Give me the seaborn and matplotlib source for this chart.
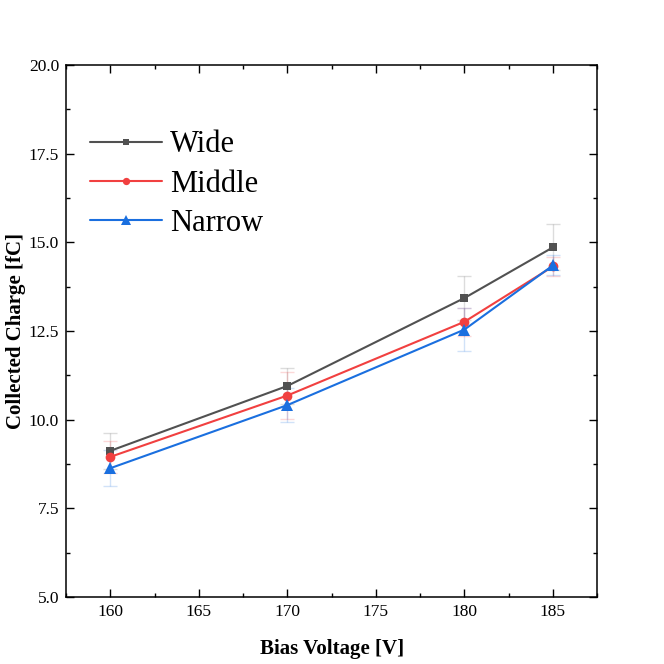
import pandas as pd
import matplotlib.pyplot as plt
import seaborn as sns
from matplotlib.ticker import MultipleLocator

# data
voltage = [160, 170, 180, 185]
wide = [9.12, 10.95, 13.43, 14.86]
middle = [8.95, 10.68, 12.76, 14.32]
narrow = [8.63, 10.41, 12.54, 14.35]
wide_err = [0.50, 0.52, 0.62, 0.65]
middle_err = [0.45, 0.65, 0.40, 0.27]
narrow_err = [0.50, 0.47, 0.60, 0.28]

series = ['Wide', 'Middle', 'Narrow']
colors = {'Wide': '#515151', 'Middle': '#F14040', 'Narrow': '#1A6FDF'}
markers = {'Wide': 's', 'Middle': 'o', 'Narrow': '^'}
msizes = {'Wide': 6, 'Middle': 7, 'Narrow': 9}

df = pd.DataFrame({
    'voltage': voltage * 3,
    'charge': wide + middle + narrow,
    'err': wide_err + middle_err + narrow_err,
    'type': [s for s in series for _ in voltage],
})


def main():
    sns.set_theme(style="ticks")
    plt.rcParams['font.family'] = ['Liberation Serif', 'DejaVu Serif']
    plt.rcParams['mathtext.fontset'] = 'stix'
    plt.rcParams['text.color'] = 'black'
    plt.rcParams['axes.labelcolor'] = 'black'
    plt.rcParams['xtick.labelcolor'] = 'black'
    plt.rcParams['ytick.labelcolor'] = 'black'

    fig = plt.figure(figsize=(6.64, 6.64), dpi=100)
    ax = fig.add_axes([0.0994, 0.101, 0.8, 0.801])

    for name in series:
        d = df[df['type'] == name]
        ax.errorbar(d['voltage'], d['charge'], yerr=d['err'], fmt='none',
                    ecolor=colors[name], alpha=0.2, elinewidth=1,
                    capsize=5, capthick=1, zorder=1)
        sns.lineplot(data=d, x='voltage', y='charge', ax=ax,
                     color=colors[name], marker=markers[name],
                     markersize=msizes[name], markeredgewidth=0,
                     linewidth=1.5, label=name, zorder=3)

    ax.set_xlim(157.5, 187.5)
    ax.set_ylim(5.0, 20.0)
    ax.xaxis.set_major_locator(MultipleLocator(5))
    ax.xaxis.set_minor_locator(MultipleLocator(2.5))
    ax.yaxis.set_major_locator(MultipleLocator(2.5))
    ax.yaxis.set_minor_locator(MultipleLocator(1.25))
    ax.yaxis.set_major_formatter(plt.FormatStrFormatter('%.1f'))

    ax.tick_params(which='both', direction='in', top=True, right=True,
                   labelsize=12.5, color='black', width=1)
    ax.tick_params(which='major', length=6, pad=5)
    ax.tick_params(which='minor', length=3)
    for sp in ax.spines.values():
        sp.set_color('black')
        sp.set_linewidth(1.1)

    ax.set_xlabel('Bias Voltage [V]', fontsize=15, fontweight='bold', labelpad=14)
    ax.set_ylabel('Collected Charge [fC]', fontsize=15, fontweight='bold', labelpad=2)

    ax.legend(loc='upper left', bbox_to_anchor=(0.022, 0.9), frameon=False,
              fontsize=22, handlelength=2.35, markerscale=0.75,
              labelspacing=0.33, handletextpad=0.27, borderaxespad=0)

    fig.savefig('out.png', dpi=100)


if __name__ == "__main__":
    main()
